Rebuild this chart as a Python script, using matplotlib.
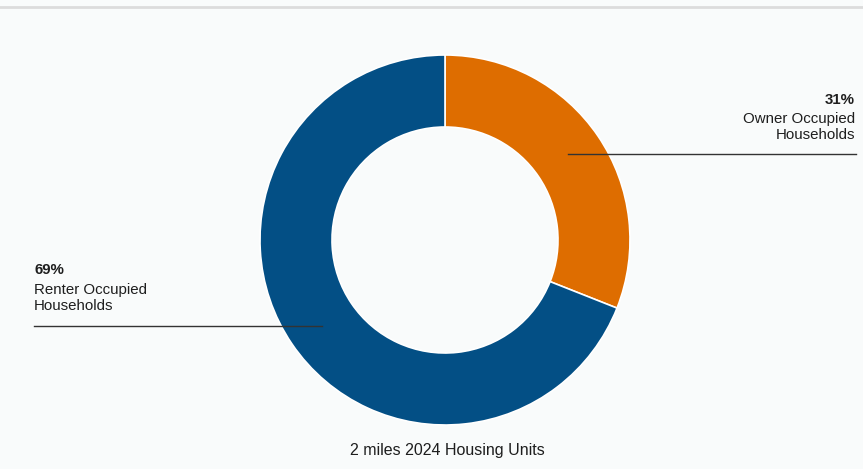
import matplotlib.pyplot as plt

# Housing units split (percent)
labels = ['Owner Occupied\nHouseholds', 'Renter Occupied\nHouseholds']
shares = [31, 69]
colors = ['#DE6D00', '#034F85']
title = '2 miles 2024 Housing Units'

plt.rcParams['font.family'] = ['Liberation Sans', 'DejaVu Sans']

W, H = 863, 469
fig = plt.figure(figsize=(W / 100, H / 100), dpi=100, facecolor='#F9FBFB')
ax = fig.add_axes([0, 0, 1, 1])

# pixel coords -> data coords (y flipped)
cx, cy, r_out, r_in = 445, H - 240, 185, 113

wedges, _ = ax.pie(shares, colors=colors, startangle=90, counterclock=False,
                   radius=r_out, center=(cx, cy), frame=True,
                   wedgeprops=dict(width=r_out - r_in, edgecolor='white', linewidth=1.2))
ax.set_xlim(0, W)
ax.set_ylim(0, H)
ax.set_aspect('equal')
ax.axis('off')

# top separator line
ax.plot([0, W], [H - 7, H - 7], color='#DCDCDC', lw=2)

fs = 10.8
# right label (owner)
ax.text(855, H - 100, f'{shares[0]}%', ha='right', va='center', fontsize=fs, fontweight='bold', color='#1E1E1E')
ax.text(855, H - 127, labels[0], ha='right', va='center', fontsize=fs, color='#1E1E1E', linespacing=1.15)
ax.plot([568, 856], [H - 154, H - 154], color='#333333', lw=1)

# left label (renter)
ax.text(34, H - 270, f'{shares[1]}%', ha='left', va='center', fontsize=fs, fontweight='bold', color='#1E1E1E')
ax.text(34, H - 298, labels[1], ha='left', va='center', fontsize=fs, color='#1E1E1E', linespacing=1.15)
ax.plot([34, 322], [H - 326, H - 326], color='#333333', lw=1)

ax.text(cx + 2, H - 450, title, ha='center', va='center', fontsize=11.5, color='#1E1E1E')

fig.savefig('out.png', dpi=100, facecolor=fig.get_facecolor())
